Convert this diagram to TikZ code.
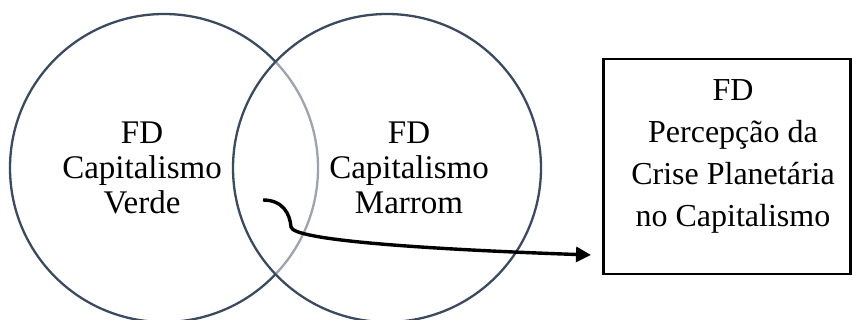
\documentclass[tikz,border=0pt]{standalone}
\usepackage{fontspec}
\setmainfont{Liberation Serif}
\usetikzlibrary{arrows.meta}
\definecolor{ringcol}{RGB}{60,74,94}
\begin{document}
\begin{tikzpicture}[x=1pt,y=-1pt,
  ring/.style={draw=ringcol,line width=2.3pt,circle,minimum size=308pt,inner sep=0pt},
  ringtext/.style={align=center,inner sep=0pt,font=\fontsize{33}{35}\selectfont},
  boxtext/.style={align=center,inner sep=0pt,font=\fontsize{32}{42}\selectfont},
  fdbox/.style={draw=black,line width=2.4pt,inner sep=0pt},
  link/.style={line width=3.4pt,-{Triangle[length=15pt,width=15pt]}}]
\useasboundingbox (0,0) rectangle (852,320);
\node[ring] (left) at (164,168) {};
\node[ring,fill=white,fill opacity=0.5] (right) at (387,168) {};
\node[ringtext] (lt) at (142,167.5) {FD\\Capitalismo\\Verde};
\node[ringtext] (rt) at (409,167.5) {FD\\Capitalismo\\Marrom};
\node[fdbox,minimum width=247pt,minimum height=215pt] (box) at (727,166.5) {};
\node[boxtext] (bt) at (733,156) {FD\\Percepção da\\Crise Planetária\\no Capitalismo};
\coordinate (start) at (263,200);
\coordinate (tip) at (591,255);
\draw[link] (start) .. controls (283,200) and (290,214) .. (291,227)
  .. controls (293,240) and (420,249) .. (tip);
\end{tikzpicture}
\end{document}
